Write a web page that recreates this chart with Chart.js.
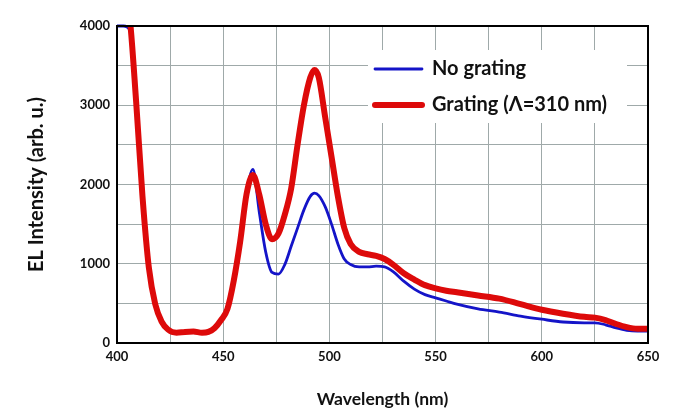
<!DOCTYPE html>
<html>
<head>
<meta charset="utf-8">
<script src="https://cdn.jsdelivr.net/npm/chart.js@4.4.1/dist/chart.umd.min.js"></script>
<style>
  body { margin: 0; background: #fff; }
  #wrap { width: 679px; height: 411px; }
</style>
</head>
<body>
<div id="wrap"><canvas id="chart"></canvas></div>
<script>
const wavelengths = [400, 403, 406, 409, 412, 415, 418, 421, 424, 428, 432, 436, 440, 443, 446, 449, 452, 455, 458, 461, 464, 467, 470, 473, 476, 479, 482, 485, 488, 491, 493, 495, 498, 501, 504, 507, 510, 514, 518, 522, 526, 530, 535, 540, 545, 550, 555, 560, 570, 580, 590, 600, 610, 620, 625, 630, 635, 640, 645, 650];

const noGrating = [4000, 4000, 3950, 3050, 1850, 950, 490, 270, 170, 130, 140, 145, 130, 140, 190, 290, 430, 790, 1280, 1880, 2190, 1650, 1150, 890, 870, 990, 1220, 1450, 1680, 1850, 1890, 1860, 1720, 1500, 1250, 1060, 990, 960, 960, 970, 960, 900, 780, 680, 610, 570, 530, 490, 430, 390, 340, 300, 265, 255, 255, 230, 190, 160, 150, 150];

const grating = [4800, 4500, 4100, 3050, 1850, 950, 490, 270, 170, 130, 140, 145, 130, 140, 190, 290, 430, 790, 1280, 1880, 2120, 1870, 1500, 1310, 1380, 1620, 1950, 2500, 3000, 3350, 3445, 3350, 2850, 2350, 1850, 1450, 1250, 1150, 1120, 1100, 1060, 990, 880, 800, 730, 690, 660, 640, 600, 560, 490, 420, 370, 330, 320, 290, 240, 200, 180, 180];

const seriesLabels = ['No grating', 'Grating (\u039B=310 nm)'];
const xTicks = [400, 450, 500, 550, 600, 650];
const yTicks = [0, 1000, 2000, 3000, 4000];

function points(ys) {
    return wavelengths.map((x, i) => ({ x: x, y: ys[i] }));
}

const fontFamily = 'Lato, "Noto Sans", sans-serif';

// legend box inside the plot, and the black frame
const framePlugin = {
    id: 'frame',
    afterDraw(chart) {
        const ctx = chart.ctx;
        const a = chart.chartArea;
        ctx.save();
        ctx.fillStyle = '#fff';
        ctx.fillRect(368, 50, 259, 73);

        const rows = [
            { y: 69, color: '#1414c8', width: 2.8, text: seriesLabels[0] },
            { y: 105, color: '#dd0a0a', width: 6, text: seriesLabels[1] },
        ];
        rows.forEach(r => {
            ctx.beginPath();
            ctx.strokeStyle = r.color;
            ctx.lineWidth = r.width;
            ctx.lineCap = 'round';
            ctx.moveTo(375, r.y);
            ctx.lineTo(422, r.y);
            ctx.stroke();
            ctx.fillStyle = '#111';
            ctx.font = 'bold 20px ' + fontFamily;
            ctx.textBaseline = 'middle';
            ctx.fillText(r.text, 432, r.y);
        });

        ctx.strokeStyle = '#000';
        ctx.lineWidth = 2;
        ctx.strokeRect(a.left, a.top, a.right - a.left, a.bottom - a.top);
        ctx.restore();
    },
};

const ctx = document.getElementById('chart').getContext('2d');

new Chart(ctx, {
    type: 'line',
    data: {
        datasets: [
            {
                label: seriesLabels[0],
                data: points(noGrating),
                borderColor: '#1414c8',
                borderWidth: 2.8,
                pointRadius: 0,
                tension: 0.4,
                cubicInterpolationMode: 'monotone',
                clip: { left: 0, top: 2, right: 0, bottom: 0 },
                order: 1,
            },
            {
                label: seriesLabels[1],
                data: points(grating),
                borderColor: '#dd0a0a',
                borderWidth: 6,
                pointRadius: 0,
                tension: 0.4,
                cubicInterpolationMode: 'monotone',
                clip: 0,
                order: 0,
            },
        ],
    },
    options: {
        responsive: true,
        maintainAspectRatio: false,
        animation: false,
        layout: { padding: { top: 26, right: 31, left: 0, bottom: 0 } },
        plugins: {
            legend: { display: false },
            tooltip: { enabled: false },
        },
        scales: {
            x: {
                type: 'linear',
                min: 400,
                max: 650,
                ticks: {
                    stepSize: 25,
                    padding: 6,
                    color: '#111',
                    font: { family: fontFamily, size: 13, weight: 'bold' },
                    callback: v => (xTicks.includes(v) ? v : ''),
                    maxRotation: 0,
                    autoSkip: false,
                },
                grid: { color: '#9fa9a9', lineWidth: 1, drawTicks: false },
                border: { display: false },
                title: {
                    display: true,
                    text: 'Wavelength (nm)',
                    color: '#111',
                    font: { family: fontFamily, size: 17.5, weight: 'bold' },
                    padding: { top: 0, bottom: 1 },
                },
                afterFit: s => { s.height = 68; },
            },
            y: {
                min: 0,
                max: 4000,
                ticks: {
                    stepSize: 500,
                    padding: 7,
                    color: '#111',
                    font: { family: fontFamily, size: 13, weight: 'bold' },
                    callback: v => (yTicks.includes(v) ? v : ''),
                    autoSkip: false,
                },
                grid: { color: '#9fa9a9', lineWidth: 1, drawTicks: false },
                border: { display: false },
                title: {
                    display: true,
                    text: 'EL Intensity (arb. u.)',
                    color: '#111',
                    font: { family: fontFamily, size: 20, weight: 'bold' },
                    padding: { top: 25, bottom: 0 },
                },
                afterFit: s => { s.width = 117; },
            },
        },
    },
    plugins: [framePlugin],
});
</script>
</body>
</html>
